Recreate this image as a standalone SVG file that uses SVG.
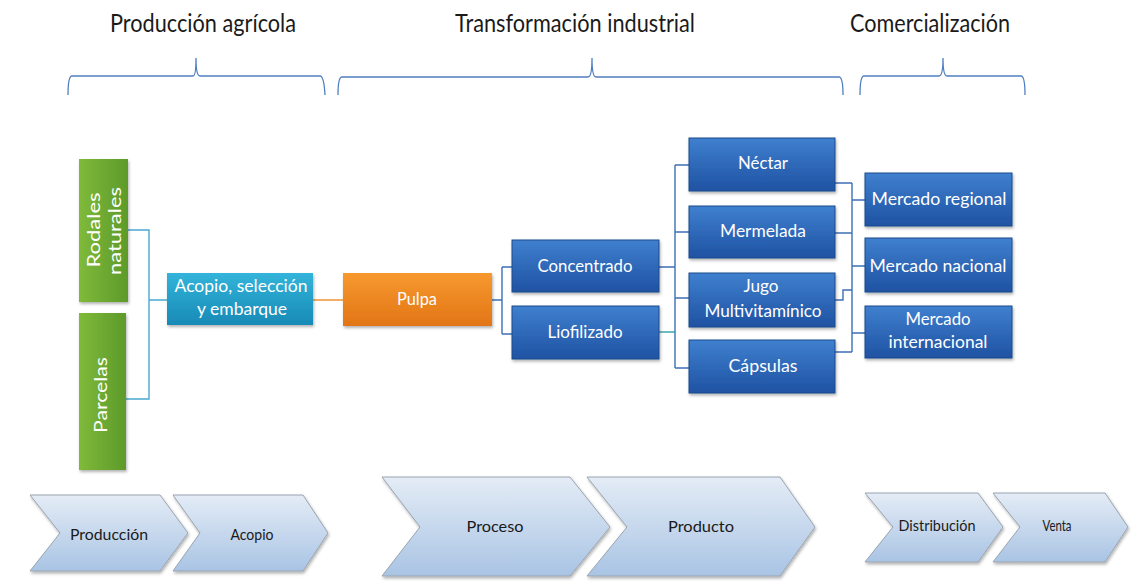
<svg xmlns="http://www.w3.org/2000/svg" width="1132" height="587" viewBox="0 0 1132 587">
<defs>
  <linearGradient id="gBlue" x1="0" y1="0" x2="0" y2="1">
    <stop offset="0" stop-color="#3f80cf"/>
    <stop offset="1" stop-color="#1f52a2"/>
  </linearGradient>
  <linearGradient id="gGreen" x1="0" y1="0" x2="1" y2="0">
    <stop offset="0" stop-color="#7fba3a"/>
    <stop offset="1" stop-color="#5d9a2a"/>
  </linearGradient>
  <linearGradient id="gCyan" x1="0" y1="0" x2="0" y2="1">
    <stop offset="0" stop-color="#33b4da"/>
    <stop offset="1" stop-color="#178ab6"/>
  </linearGradient>
  <linearGradient id="gOrange" x1="0" y1="0" x2="0" y2="1">
    <stop offset="0" stop-color="#f7992f"/>
    <stop offset="1" stop-color="#e27516"/>
  </linearGradient>
  <linearGradient id="gChev" x1="0" y1="0" x2="0" y2="1">
    <stop offset="0" stop-color="#e4ecf6"/>
    <stop offset="1" stop-color="#a9c4e4"/>
  </linearGradient>
  <filter id="sh" x="-10%" y="-10%" width="130%" height="140%">
    <feDropShadow dx="1" dy="2" stdDeviation="1.5" flood-color="#000" flood-opacity="0.3"/>
  </filter>
</defs>
<style>
  .hdr{font-family:Lato,"Open Sans",sans-serif;font-size:25px;fill:#1a1a1a;text-anchor:middle}
  .wt{font-family:Lato,"Open Sans",sans-serif;font-size:17px;fill:#ffffff;text-anchor:middle}
  .ct{font-family:Lato,"Open Sans",sans-serif;font-size:16px;fill:#1a1a1a;text-anchor:middle}
  .blue{fill:url(#gBlue);stroke:#1c4a8c;stroke-width:1;filter:url(#sh)}
  .green{fill:url(#gGreen);filter:url(#sh)}
  .cyan{fill:url(#gCyan);filter:url(#sh)}
  .orange{fill:url(#gOrange);filter:url(#sh)}
  .chev{fill:url(#gChev);stroke:#9aa4b0;stroke-width:1;filter:url(#sh)}
  .brace{fill:none;stroke:#4f7fc0;stroke-width:1.3}
  .c{fill:none;stroke-width:1.4}
</style>
<rect width="1132" height="587" fill="#ffffff"/>

<g id="headers">
  <text class="hdr" x="203" y="32" textLength="186" lengthAdjust="spacingAndGlyphs">Producción agrícola</text>
  <text class="hdr" x="575" y="32" textLength="240" lengthAdjust="spacingAndGlyphs">Transformación industrial</text>
  <text class="hdr" x="930" y="32" textLength="160" lengthAdjust="spacingAndGlyphs">Comercialización</text>
</g>

<g id="braces">
  <path class="brace" d="M68,95 Q68,76 72,76 L193,76 Q196,76 196,58 Q196,76 200,76 L320,76 Q324,76 325,95"/>
  <path class="brace" d="M338,95 Q338,77 342,77 L588,77 Q592,77 592,58 Q592,77 596,77 L839,77 Q843,77 843,95"/>
  <path class="brace" d="M860,95 Q860,76 864,76 L939,76 Q943,76 943,58 Q943,76 947,76 L1021,76 Q1025,76 1025,95"/>
</g>

<g id="connectors">
  <path class="c" stroke="#4aa8d0" d="M128,230 H149 V399 H126 M149,300 H167"/>
  <path class="c" stroke="#f08a24" d="M313,300 H343"/>
  <path class="c" stroke="#3d6fb6" d="M492,300 H502 M502,267 V334 M502,267 H512 M502,334 H512"/>
  <path class="c" stroke="#3d6fb6" d="M659,267 H675 M675,165 V368 M675,165 H689 M675,232 H689 M675,298 H689 M675,368 H689"/>
  <path class="c" stroke="#2fa0a8" d="M659,332 H675"/>
  <path class="c" stroke="#3d6fb6" d="M835,183 H852 M835,233 H852 M835,300 H843 V290 H852 M835,352 H852 M852,183 V352 M852,200 H865 M852,266 H865 M852,333 H865"/>
</g>

<g id="rodales">
  <rect class="green" x="79" y="159" width="49" height="143"/>
  <text class="wt" transform="translate(100,230) rotate(-90)" x="0" y="0" textLength="75" lengthAdjust="spacingAndGlyphs">Rodales</text>
  <text class="wt" transform="translate(121,231) rotate(-90)" x="0" y="0" textLength="88" lengthAdjust="spacingAndGlyphs">naturales</text>
</g>
<g id="parcelas">
  <rect class="green" x="79" y="313" width="47" height="157"/>
  <text class="wt" transform="translate(107,395) rotate(-90)" x="0" y="0" textLength="76" lengthAdjust="spacingAndGlyphs">Parcelas</text>
</g>
<g id="acopio">
  <rect class="cyan" x="167" y="273" width="146" height="52"/>
  <text class="wt" x="241" y="292" textLength="133" lengthAdjust="spacingAndGlyphs">Acopio, selección</text>
  <text class="wt" x="242" y="315" textLength="90" lengthAdjust="spacingAndGlyphs">y embarque</text>
</g>
<g id="pulpa">
  <rect class="orange" x="343" y="273" width="149" height="53"/>
  <text class="wt" x="417" y="305" textLength="40" lengthAdjust="spacingAndGlyphs">Pulpa</text>
</g>
<g id="concentrado">
  <rect class="blue" x="512" y="240" width="147" height="52"/>
  <text class="wt" x="585" y="272" textLength="95" lengthAdjust="spacingAndGlyphs">Concentrado</text>
</g>
<g id="liofilizado">
  <rect class="blue" x="512" y="306" width="147" height="53"/>
  <text class="wt" x="585" y="338" textLength="75" lengthAdjust="spacingAndGlyphs">Liofilizado</text>
</g>
<g id="nectar">
  <rect class="blue" x="689" y="138" width="146" height="53"/>
  <text class="wt" x="763" y="169" textLength="50" lengthAdjust="spacingAndGlyphs">Néctar</text>
</g>
<g id="mermelada">
  <rect class="blue" x="689" y="206" width="146" height="52"/>
  <text class="wt" x="763" y="237" textLength="86" lengthAdjust="spacingAndGlyphs">Mermelada</text>
</g>
<g id="jugo">
  <rect class="blue" x="689" y="273" width="146" height="54"/>
  <text class="wt" x="761" y="292" textLength="35" lengthAdjust="spacingAndGlyphs">Jugo</text>
  <text class="wt" x="763" y="317" textLength="117" lengthAdjust="spacingAndGlyphs">Multivitamínico</text>
</g>
<g id="capsulas">
  <rect class="blue" x="689" y="340" width="146" height="53"/>
  <text class="wt" x="763" y="372" textLength="69" lengthAdjust="spacingAndGlyphs">Cápsulas</text>
</g>
<g id="mregional">
  <rect class="blue" x="865" y="173" width="147" height="53"/>
  <text class="wt" x="939" y="205" textLength="135" lengthAdjust="spacingAndGlyphs">Mercado regional</text>
</g>
<g id="mnacional">
  <rect class="blue" x="865" y="238" width="147" height="54"/>
  <text class="wt" x="938" y="272" textLength="137" lengthAdjust="spacingAndGlyphs">Mercado nacional</text>
</g>
<g id="minternacional">
  <rect class="blue" x="865" y="306" width="147" height="52"/>
  <text class="wt" x="938" y="325" textLength="65" lengthAdjust="spacingAndGlyphs">Mercado</text>
  <text class="wt" x="938" y="348" textLength="99" lengthAdjust="spacingAndGlyphs">internacional</text>
</g>

<g id="produccion">
  <polygon class="chev" points="30,495 160,495 188,533 160,571 30,571 60,533"/>
  <text class="ct" x="109" y="540" textLength="78" lengthAdjust="spacingAndGlyphs">Producción</text>
</g>
<g id="acopio-chev">
  <polygon class="chev" points="173,495 303,495 328,533 303,571 173,571 200,533"/>
  <text class="ct" x="252" y="540" textLength="43" lengthAdjust="spacingAndGlyphs">Acopio</text>
</g>
<g id="proceso">
  <polygon class="chev" points="382,477 570,477 610,527 570,576 382,576 420,527"/>
  <text class="ct" x="495" y="532" textLength="57" lengthAdjust="spacingAndGlyphs">Proceso</text>
</g>
<g id="producto">
  <polygon class="chev" points="587,477 780,477 815,527 780,576 587,576 627,527"/>
  <text class="ct" x="701" y="532" textLength="66" lengthAdjust="spacingAndGlyphs">Producto</text>
</g>
<g id="distribucion">
  <polygon class="chev" points="865,493 978,493 1003,527 978,562 865,562 893,527"/>
  <text class="ct" x="937" y="531" textLength="77" lengthAdjust="spacingAndGlyphs">Distribución</text>
</g>
<g id="venta">
  <polygon class="chev" points="993,493 1105,493 1128,527 1105,562 993,562 1020,527"/>
  <text class="ct" x="1057" y="531" textLength="29" lengthAdjust="spacingAndGlyphs">Venta</text>
</g>
</svg>
